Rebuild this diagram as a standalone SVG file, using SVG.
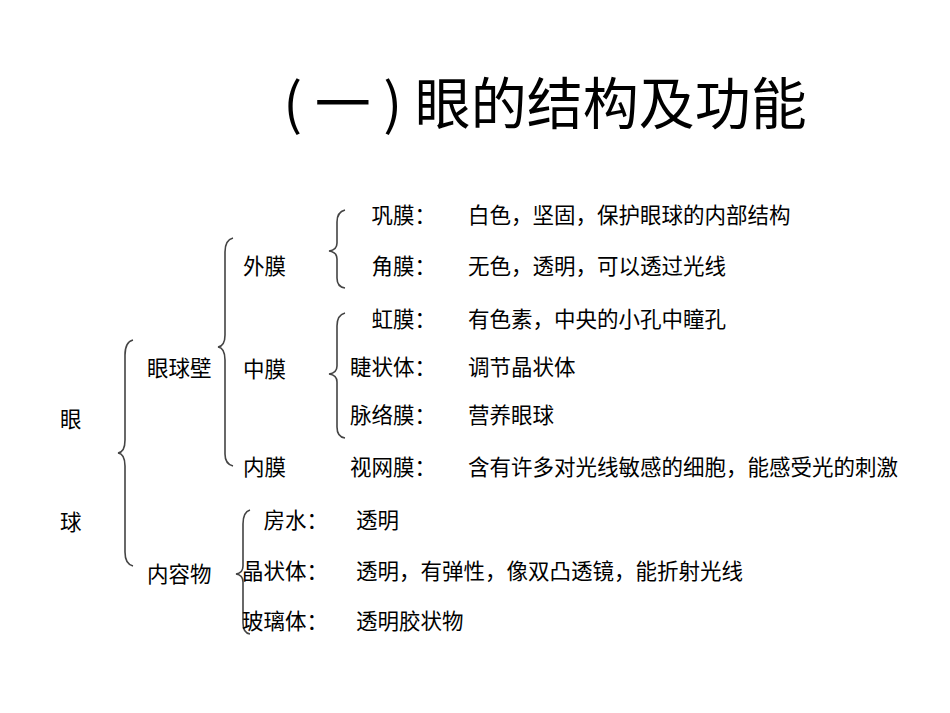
<svg xmlns="http://www.w3.org/2000/svg" width="950" height="713" viewBox="0 0 950 713">
<style>
text{font-family:"Noto Sans CJK SC","Liberation Sans",sans-serif;font-size:21.5px;fill:#000}
.r{text-anchor:end}
.b{fill:none;stroke:#444;stroke-width:1.6}
</style>
<rect width="950" height="713" fill="#fff"/>
<text x="545" y="124" text-anchor="middle" style="font-size:56px">( 一 ) 眼的结构及功能</text>
<g id="connectors">
<path class="b" d="M133,340 Q125,342 125,355 L125,440 Q125,452 118,453 Q125,454 125,466 L125,552 Q125,564 133,566"/>
<path class="b" d="M233,238 Q225,240 225,252 L225,335 Q225,346 218,347 Q225,348 225,360 L225,454 Q225,464 233,466"/>
<path class="b" d="M345,210 Q337,212 337,222 L337,243 Q337,250 329,251 Q337,252 337,259 L337,278 Q337,287 345,288"/>
<path class="b" d="M345,313 Q337,315 337,326 L337,366 Q337,373 329,374 Q337,375 337,382 L337,427 Q337,437 345,438"/>
<path class="b" d="M250,510 Q243,512 243,524 L243,566 Q243,573 236,574 Q243,575 243,582 L243,623 Q243,633 250,634"/>
</g>
<g id="eye"><text x="60" y="427">眼</text><text x="60" y="530">球</text></g>
<g id="wall"><text x="147" y="376">眼球壁</text></g>
<g id="content"><text x="147" y="582">内容物</text></g>
<g id="outer"><text x="243" y="274">外膜</text></g>
<g id="middle"><text x="243" y="377">中膜</text></g>
<g id="inner"><text x="243" y="475">内膜</text></g>
<g id="rows">
<text class="r" x="436" y="223">巩膜：</text><text x="468" y="223">白色，坚固，保护眼球的内部结构</text>
<text class="r" x="436" y="274">角膜：</text><text x="468" y="274">无色，透明，可以透过光线</text>
<text class="r" x="436" y="327">虹膜：</text><text x="468" y="327">有色素，中央的小孔中瞳孔</text>
<text class="r" x="436" y="375">睫状体：</text><text x="468" y="375">调节晶状体</text>
<text class="r" x="436" y="423">脉络膜：</text><text x="468" y="423">营养眼球</text>
<text class="r" x="436" y="475">视网膜：</text><text x="468" y="475">含有许多对光线敏感的细胞，能感受光的刺激</text>
<text class="r" x="328" y="528">房水：</text><text x="356" y="528">透明</text>
<text class="r" x="328" y="579">晶状体：</text><text x="356" y="579">透明，有弹性，像双凸透镜，能折射光线</text>
<text class="r" x="328" y="629">玻璃体：</text><text x="356" y="629">透明胶状物</text>
</g>
</svg>
